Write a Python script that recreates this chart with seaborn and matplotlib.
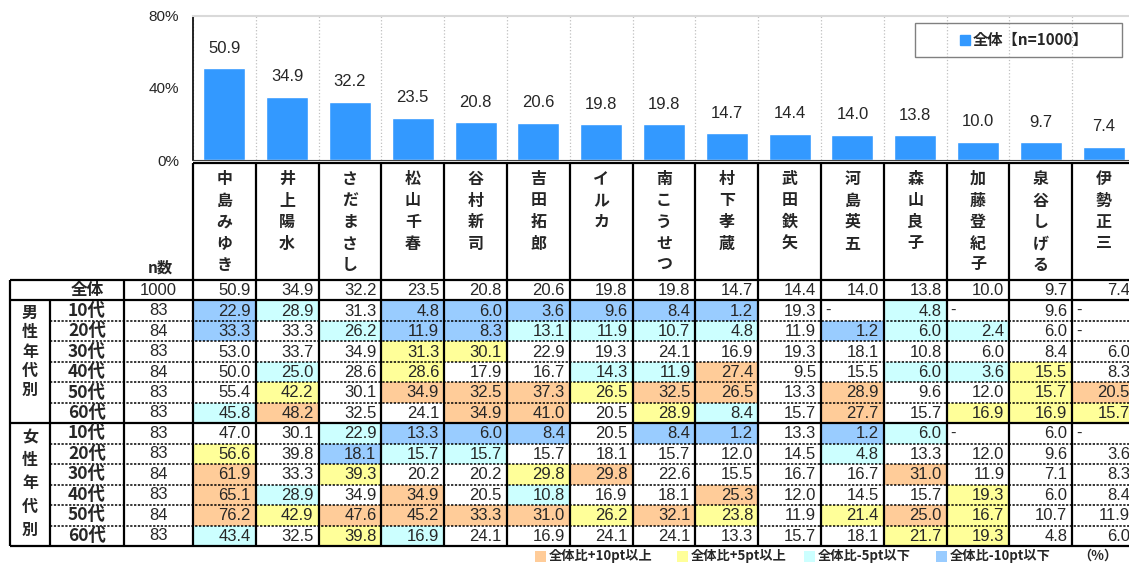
import numpy as np
import pandas as pd
import seaborn as sns
import matplotlib.pyplot as plt
from matplotlib.colors import ListedColormap
from matplotlib.lines import Line2D
from matplotlib.patches import Rectangle

# data
names = ["中島みゆき", "井上陽水", "さだまさし", "松山千春", "谷村新司", "吉田拓郎", "イルカ",
         "南こうせつ", "村下孝蔵", "武田鉄矢", "河島英五", "森山良子", "加藤登紀子", "泉谷しげる", "伊勢正三"]
overall = [50.9, 34.9, 32.2, 23.5, 20.8, 20.6, 19.8, 19.8, 14.7, 14.4, 14.0, 13.8, 10.0, 9.7, 7.4]
overall_n = 1000
age_labels = ["10代", "20代", "30代", "40代", "50代", "60代"]
male_n = [83, 84, 83, 84, 83, 83]
female_n = [83, 83, 84, 83, 84, 83]
nan = np.nan
male_values = [
    [22.9, 28.9, 31.3, 4.8, 6.0, 3.6, 9.6, 8.4, 1.2, 19.3, nan, 4.8, nan, 9.6, nan],
    [33.3, 33.3, 26.2, 11.9, 8.3, 13.1, 11.9, 10.7, 4.8, 11.9, 1.2, 6.0, 2.4, 6.0, nan],
    [53.0, 33.7, 34.9, 31.3, 30.1, 22.9, 19.3, 24.1, 16.9, 19.3, 18.1, 10.8, 6.0, 8.4, 6.0],
    [50.0, 25.0, 28.6, 28.6, 17.9, 16.7, 14.3, 11.9, 27.4, 9.5, 15.5, 6.0, 3.6, 15.5, 8.3],
    [55.4, 42.2, 30.1, 34.9, 32.5, 37.3, 26.5, 32.5, 26.5, 13.3, 28.9, 9.6, 12.0, 15.7, 20.5],
    [45.8, 48.2, 32.5, 24.1, 34.9, 41.0, 20.5, 28.9, 8.4, 15.7, 27.7, 15.7, 16.9, 16.9, 15.7],
]
female_values = [
    [47.0, 30.1, 22.9, 13.3, 6.0, 8.4, 20.5, 8.4, 1.2, 13.3, 1.2, 6.0, nan, 6.0, nan],
    [56.6, 39.8, 18.1, 15.7, 15.7, 15.7, 18.1, 15.7, 12.0, 14.5, 4.8, 13.3, 12.0, 9.6, 3.6],
    [61.9, 33.3, 39.3, 20.2, 20.2, 29.8, 29.8, 22.6, 15.5, 16.7, 16.7, 31.0, 11.9, 7.1, 8.3],
    [65.1, 28.9, 34.9, 34.9, 20.5, 10.8, 16.9, 18.1, 25.3, 12.0, 14.5, 15.7, 19.3, 6.0, 8.4],
    [76.2, 42.9, 47.6, 45.2, 33.3, 31.0, 26.2, 32.1, 23.8, 11.9, 21.4, 25.0, 16.7, 10.7, 11.9],
    [43.4, 32.5, 39.8, 16.9, 24.1, 16.9, 24.1, 24.1, 13.3, 15.7, 18.1, 21.7, 19.3, 4.8, 6.0],
]
legend_labels = ["全体比+10pt以上", "全体比+5pt以上", "全体比-5pt以下", "全体比-10pt以下"]
shade_colors = ["#FFCC99", "#FFFF99", "#CCFFFF", "#99CCFF"]
bar_color = "#3399FF"

sns.set_style("white")
plt.rcParams['font.family'] = ['Liberation Sans', 'Noto Sans CJK JP']
JP = ['Noto Sans CJK JP', 'DejaVu Sans']

# table values and shading codes
table = pd.DataFrame([overall] + male_values + female_values, columns=names)
diff = table - np.array(overall)
codes = np.zeros(table.shape)
codes[diff.values >= 5] = 2
codes[diff.values >= 10] = 1
codes[diff.values <= -5] = 3
codes[diff.values <= -10] = 4
codes[table.isna().values] = 0

# layout in pixels
W, H = 1129, 563
col_x0, col_w = 193, 62.8
row_y0, row_h = 280, 20.46
bar_top, bar_bot = 15.5, 160
n_rows = len(table)
x_end = col_x0 + 15 * col_w
y_end = row_y0 + n_rows * row_h

fig = plt.figure(figsize=(W / 100, H / 100), dpi=100)
ax = fig.add_axes([col_x0 / W, 1 - bar_bot / H, 15 * col_w / W, (bar_bot - bar_top) / H])
ax_hm = fig.add_axes([col_x0 / W, 1 - y_end / H, 15 * col_w / W, n_rows * row_h / H])
ov = fig.add_axes([0, 0, 1, 1], zorder=5)
ov.set_xlim(0, W)
ov.set_ylim(H, 0)
ov.set_axis_off()
ov.patch.set_alpha(0)

# bar chart
bar_df = pd.DataFrame({"name": names, "value": overall})
sns.barplot(data=bar_df, x="name", y="value", color=bar_color, width=0.67, saturation=1, ax=ax)
ax.bar_label(ax.containers[0], fmt="%.1f", padding=9, fontsize=12)
ax.set_xlim(-0.5, 14.5)
ax.set_ylim(0, 80)
ax.set_yticks([0, 40, 80])
ax.set_yticklabels(["0%", "40%", "80%"], fontsize=11)
ax.set_xlabel("")
ax.set_ylabel("")
ax.set_xticks(np.arange(-0.5, 15, 1), minor=True)
ax.set_xticks([])
ax.grid(which="minor", axis="x", color="#c0c0c0", linestyle=":", linewidth=0.9)
ax.tick_params(axis="y", direction="in", length=5, width=1, pad=10)
ax.tick_params(axis="x", which="minor", direction="out", length=3, color="#404040")
ax.spines["top"].set_color("#d9d9d9")
ax.spines["top"].set_linewidth(1.5)
ax.spines["right"].set_visible(False)
ax.spines["left"].set_color("black")
ax.spines["bottom"].set_color("#404040")
ax.spines["left"].set_linewidth(1.2)

ax.legend([Line2D([], [], marker="s", color=bar_color, linestyle="none", markersize=7)],
          [f"全体【n={overall_n}】"], loc="center", frameon=False,
          bbox_to_anchor=(1024 / W, 1 - 40 / H), bbox_transform=fig.transFigure,
          handletextpad=0.1, handlelength=0.8, prop={"family": JP, "weight": "bold", "size": 11})
ov.add_patch(Rectangle((915, 23), 207, 34, fill=False, edgecolor="#808080", linewidth=1))

# shaded cells
cmap = ListedColormap(["white"] + shade_colors)
sns.heatmap(codes, cmap=cmap, vmin=-0.5, vmax=4.5, cbar=False, ax=ax_hm,
            xticklabels=False, yticklabels=False)
ax_hm.set_axis_off()
for r in range(n_rows):
    for c in range(15):
        v = table.iat[r, c]
        if np.isnan(v):
            ax_hm.text(c + 0.06, r + 0.5, "-", ha="left", va="center", fontsize=12)
        else:
            ax_hm.text(c + 0.92, r + 0.52, f"{v:.1f}", ha="right", va="center", fontsize=12)

# header names (vertical)
for i, nm in enumerate(names):
    for k, ch in enumerate(nm):
        ov.text(col_x0 + (i + 0.5) * col_w, 179 + k * 21.5, ch, ha="center", va="center",
                fontsize=11.5, fontweight="bold", family=JP)
ov.text(160, 268, "n数", ha="center", va="center", fontsize=11, fontweight="bold", family=JP)

# row labels
ov.text(87, row_y0 + 0.5 * row_h, "全体", ha="center", va="center", fontsize=12,
        fontweight="bold", family=JP)
ov.text(158.5, row_y0 + 0.5 * row_h, str(overall_n), ha="center", va="center", fontsize=12)
for g, ns in enumerate([male_n, female_n]):
    for i, (lab, n) in enumerate(zip(age_labels, ns)):
        yc = row_y0 + (1 + g * 6 + i + 0.5) * row_h
        ov.text(87, yc, lab, ha="center", va="center", fontsize=12.5, fontweight="bold", family=JP)
        ov.text(158.5, yc, str(n), ha="center", va="center", fontsize=12)
for k, ch in enumerate("男性年代別"):
    ov.text(30, 313 + k * 19.3, ch, ha="center", va="center", fontsize=11.5, fontweight="bold", family=JP)
for k, ch in enumerate("女性年代別"):
    ov.text(30, 437 + k * 23.2, ch, ha="center", va="center", fontsize=11.5, fontweight="bold", family=JP)

# grid lines
thick = 1.6
ov.hlines(163, col_x0, x_end, color="black", lw=thick)
for r in [0, 1, 7, 13]:
    ov.hlines(row_y0 + r * row_h, 10, x_end, color="black", lw=thick)
for r in list(range(2, 7)) + list(range(8, 13)):
    ov.hlines(row_y0 + r * row_h, 50, x_end, color="black", lw=1.1, linestyles=(0, (1.5, 1)))
ov.vlines(10, row_y0, y_end, color="black", lw=thick)
ov.vlines(50, row_y0 + row_h, y_end, color="black", lw=thick)
ov.vlines(124, row_y0, y_end, color="black", lw=thick)
for k in range(16):
    ov.vlines(col_x0 + k * col_w, 163, y_end, color="black", lw=thick)

# shading legend
leg_x = [535, 677, 804, 936]
for x, lab, col in zip(leg_x, legend_labels, shade_colors):
    ov.add_patch(Rectangle((x, 551), 11, 11, facecolor=col, edgecolor="none"))
    ov.text(x + 14, 556, lab, ha="left", va="center", fontsize=9.5, fontweight="bold", family=JP)
ov.text(1098, 556, "（%）", ha="center", va="center", fontsize=9.5, fontweight="bold", family=JP)

fig.savefig("out.png", dpi=100)
